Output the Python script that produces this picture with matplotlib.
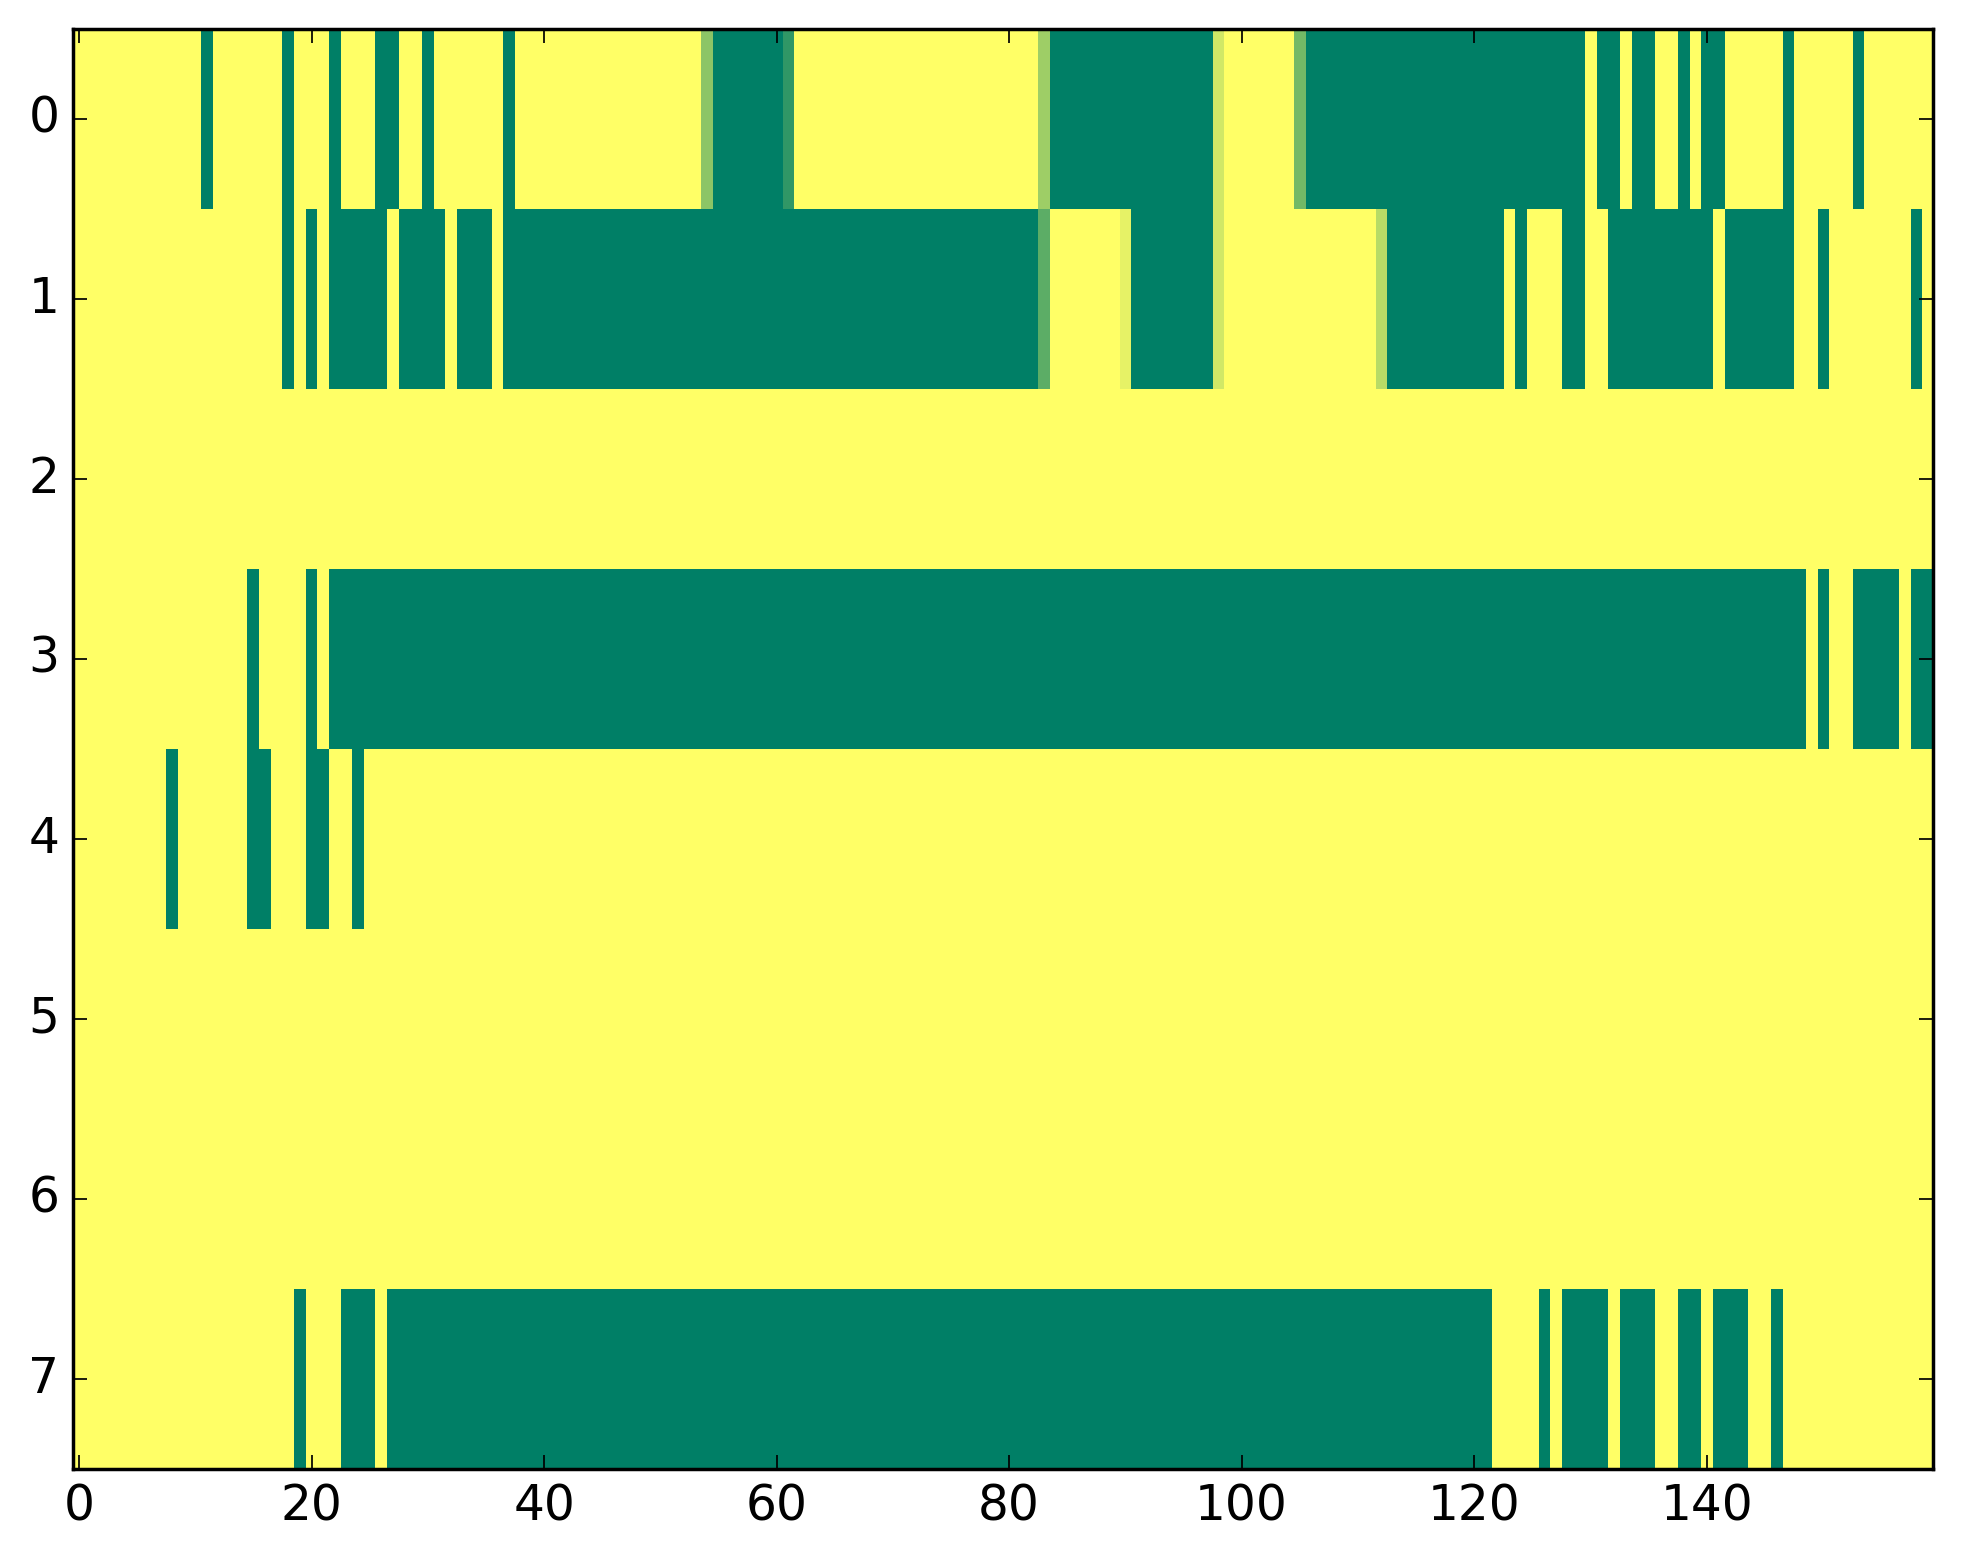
import numpy as np
import matplotlib
matplotlib.use('Agg')
import matplotlib.pyplot as plt

plt.style.use('classic')

n_rows = 8
n_cols = 160

# green (value 0) column runs for each row, inclusive (start, end)
row0_green = [(11, 11), (18, 18), (22, 22), (26, 27), (30, 30), (37, 37),
              (55, 60), (84, 97), (106, 129), (131, 132), (134, 135),
              (138, 138), (140, 141), (147, 147), (153, 153)]
row1_green = [(18, 18), (20, 20), (22, 26), (28, 31), (33, 35), (37, 82),
              (91, 97), (113, 122), (124, 124), (128, 129), (132, 140),
              (142, 147), (150, 150), (158, 158)]
row3_green = [(15, 15), (20, 20), (22, 148), (150, 150), (153, 156), (158, 159)]
row4_green = [(8, 8), (15, 16), (20, 21), (24, 24)]
row7_green = [(19, 19), (23, 25), (27, 121), (126, 126), (128, 131),
              (133, 135), (138, 139), (141, 143), (146, 146)]

# cells with in-between values: (row, col, value)
partial_cells = [(0, 54, 0.55), (0, 61, 0.19), (0, 83, 0.62), (0, 98, 0.82),
                 (0, 105, 0.45), (1, 83, 0.36), (1, 90, 0.90), (1, 98, 0.82),
                 (1, 112, 0.72)]

green_runs = {0: row0_green, 1: row1_green, 3: row3_green,
              4: row4_green, 7: row7_green}

data = np.ones((n_rows, n_cols))
for r, runs in green_runs.items():
    for a, b in runs:
        data[r, a:b + 1] = 0.0
for r, c, v in partial_cells:
    data[r, c] = v

fig = plt.figure(figsize=(1963 / 250, 1564 / 250), dpi=250, facecolor='white')
ax = fig.add_axes([0.0373, 0.0609, 0.9476, 0.9207])
ax.imshow(data, cmap='summer', vmin=0, vmax=1, aspect='auto',
          interpolation='nearest')
ax.set_xticks(np.arange(0, 141, 20))
ax.set_yticks(np.arange(0, 8))
ax.tick_params(labelsize=14)
ax.set_xlim(-0.5, n_cols - 0.5)
ax.set_ylim(n_rows - 0.5, -0.5)

fig.savefig('out.png', dpi=250, facecolor='white')
